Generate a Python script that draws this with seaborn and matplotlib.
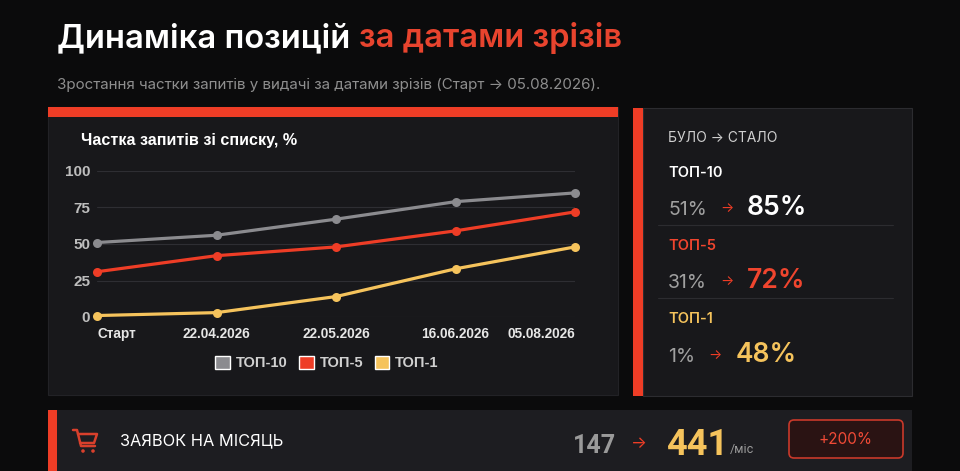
import matplotlib.pyplot as plt
import numpy as np
import pandas as pd
import seaborn as sns
from matplotlib.patches import Rectangle, FancyBboxPatch, Patch, Circle

# --- data ---
dates = ['Старт', '22.04.2026', '22.05.2026', '16.06.2026', '05.08.2026']
top10 = [51, 56, 67, 79, 85]
top5 = [31, 42, 48, 59, 72]
top1 = [1, 3, 14, 33, 48]
series_names = ['ТОП-10', 'ТОП-5', 'ТОП-1']
leads_before = 147
leads_after = 441
leads_growth = '+200%'

BG = '#0b0b0c'
PANEL = '#18181b'
BAR = '#1d1d21'
RED = '#ee3d26'
GRAY = '#8b8b8f'
YELLOW = '#f5c35c'
colors = {'ТОП-10': GRAY, 'ТОП-5': RED, 'ТОП-1': YELLOW}

df = pd.DataFrame({
    'pos': list(range(len(dates))) * 3,
    'value': top10 + top5 + top1,
    'series': np.repeat(series_names, len(dates)),
})

sns.set_theme(style='dark')
plt.rcParams['font.family'] = ['Inter', 'DejaVu Sans']

W, H = 960, 471
fig = plt.figure(figsize=(W / 100, H / 100), dpi=100, facecolor=BG)
bg = fig.add_axes([0, 0, 1, 1], zorder=0)
bg.set_xlim(0, W)
bg.set_ylim(H, 0)
bg.axis('off')


def box(x0, y0, x1, y1, color, **kw):
    bg.add_patch(Rectangle((x0, y0), x1 - x0, y1 - y0, facecolor=color, **kw))


# panels
box(48, 107, 618, 395, PANEL, edgecolor='#222226', lw=0.8)
box(48, 107, 618, 117, RED, lw=0)
box(643, 108, 912, 396, PANEL, edgecolor='#2c2c30', lw=0.8)
box(633, 108, 643, 396, RED, lw=0)
box(48, 410, 912, 475, BAR, lw=0)
box(48, 410, 57, 475, RED, lw=0)

# title
renderer = fig.canvas.get_renderer()
t1 = bg.text(57, 47, 'Динаміка позицій', color='white', fontsize=23.5,
             fontweight='semibold', va='baseline')
x_end = t1.get_window_extent(renderer).x1
bg.text(x_end + 9, 47, 'за датами зрізів', color='#e8442e', fontsize=23.5,
        fontweight='semibold', va='baseline')
bg.text(57, 89, 'Зростання частки запитів у видачі за датами зрізів (Старт → 05.08.2026).',
        color='#8e8e8e', fontsize=10.9, va='baseline')

# chart
bg.text(81, 145, 'Частка запитів зі списку, %', color='white', fontsize=11.6,
        fontweight='bold', family='Liberation Sans', va='baseline')

ax = fig.add_axes([97 / W, 1 - 317 / H, (575 - 97) / W, (317 - 171) / H], zorder=2)
ax.set_facecolor('none')
sns.lineplot(data=df, x='pos', y='value', hue='series', hue_order=series_names,
             palette=colors, marker='o', markersize=6.5, linewidth=2.3,
             markeredgewidth=0, legend=False, ax=ax)
for ln in ax.lines:
    ln.set_clip_on(False)
ax.set_xlim(0, len(dates) - 1)
ax.set_ylim(0, 100)
ax.set_yticks([0, 25, 50, 75, 100])
ax.set_xticks(range(len(dates)), dates)
ax.grid(axis='y', color='#2e2e33', lw=0.8)
ax.grid(axis='x', visible=False)
for s in ax.spines.values():
    s.set_visible(False)
ax.tick_params(axis='y', length=0, pad=5, labelsize=11, labelcolor='#bdbdbd')
ax.tick_params(axis='x', length=0, pad=7, labelsize=9.8, labelcolor='#e6e6e6')
ax.set_xlabel('')
ax.set_ylabel('')
for t in ax.get_xticklabels() + ax.get_yticklabels():
    t.set_fontfamily('Liberation Sans')
    t.set_fontweight('bold')
xl = ax.get_xticklabels()
xl[0].set_ha('left')
xl[-1].set_ha('right')

handles = [Patch(facecolor=colors[n], label=n) for n in series_names]
leg = fig.legend(handles=handles, loc='center', bbox_to_anchor=(327 / W, 1 - 363 / H),
                 ncol=3, frameon=False, handlelength=1.0, handleheight=1.0,
                 handletextpad=0.4, columnspacing=0.8,
                 prop={'family': 'Liberation Sans', 'weight': 'bold', 'size': 10.5})
for t in leg.get_texts():
    t.set_color('#d0d0d0')

# right panel
bg.text(668, 142, 'БУЛО → СТАЛО', color='#cfcfcf', fontsize=10, va='baseline')
rows = [
    ('ТОП-10', 'white', top10, 177, 215, 720, 747),
    ('ТОП-5', '#f0452e', top5, 250, 288, 720, 747),
    ('ТОП-1', YELLOW, top1, 323, 362, 708, 736),
]
for name, col, vals, y_name, y_val, x_arr, x_new in rows:
    bg.text(668, y_name, name, color=col, fontsize=10.5, fontweight='semibold', va='baseline')
    bg.text(668, y_val, f'{vals[0]}%', color='#a0a0a0', fontsize=14, va='baseline')
    bg.text(x_arr, y_val - 3, '→', color=RED, fontsize=10, va='baseline')
    bg.text(x_new, y_val, f'{vals[-1]}%', color=col, fontsize=19, fontweight='semibold',
            va='baseline')
for y in (225, 298):
    bg.plot([658, 893], [y, y], color='#2c2c30', lw=0.8)

# bottom bar
cart = dict(color='#d9402c', lw=1.8, solid_capstyle='round', solid_joinstyle='round')
bg.plot([73, 77, 81, 95], [430, 430, 446, 446], **cart)
bg.plot([78, 97, 94, 80], [434, 434, 443, 443], **cart)
for cx in (83, 93):
    bg.add_patch(Circle((cx, 451), 1.8, facecolor='#d9402c', lw=0))
bg.text(120, 445, 'ЗАЯВОК НА МІСЯЦЬ', color='white', fontsize=11.8, va='baseline')
bg.text(573, 453, str(leads_before), color='#9a9a9a', fontsize=18, fontweight='bold',
        family='Roboto', va='baseline')
bg.text(631, 448, '→', color=RED, fontsize=12, va='baseline')
bg.text(666, 455, str(leads_after), color=YELLOW, fontsize=26, fontweight='bold',
        family='Roboto', va='baseline')
bg.text(730, 453, '/міс', color='#9a9a9a', fontsize=9, family='Roboto', va='baseline')
bg.add_patch(FancyBboxPatch((789, 420), 114, 38, boxstyle='round,pad=0,rounding_size=5',
                            facecolor='#2a1313', edgecolor='#c9392a', lw=1.2))
bg.text(846, 439, leads_growth, color='#f04a36', fontsize=11, ha='center', va='center')

fig.savefig('out.png', dpi=100, facecolor=BG)
